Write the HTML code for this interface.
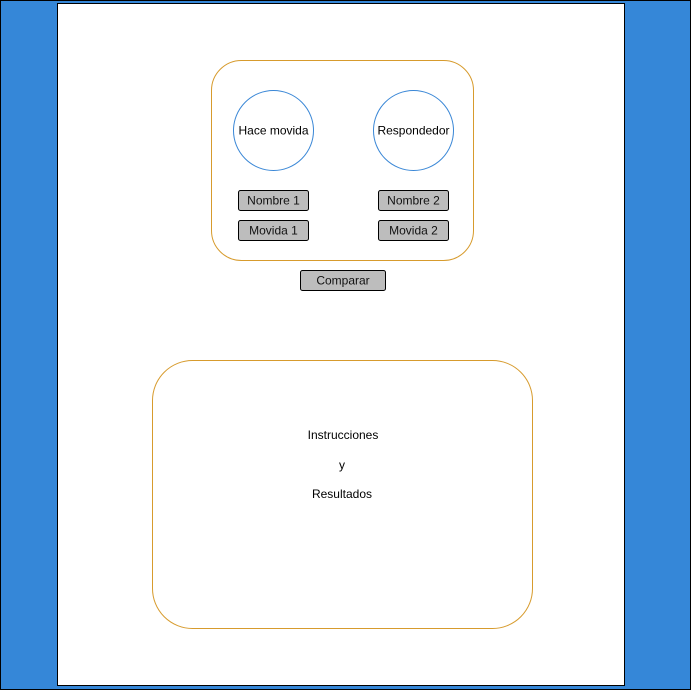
<!DOCTYPE html>
<html><head><style>html,body{margin:0;padding:0;background:#fff}</style></head>
<body>
<svg width="692" height="691" viewBox="0 0 692 691" xmlns="http://www.w3.org/2000/svg" font-family="Liberation Sans, Arial, sans-serif" font-size="12">
<rect x="0.5" y="0.5" width="690" height="689" fill="#3587d8" stroke="#000"/>
<rect x="57.5" y="3.5" width="567" height="682" fill="#fff" stroke="#000"/>
<rect x="211.5" y="60.5" width="262" height="200" rx="30" fill="none" stroke="#d79b2d"/>
<circle cx="273.5" cy="130.5" r="40" fill="#fff" stroke="#3a87d6"/>
<text x="273.5" y="134.5" text-anchor="middle">Hace movida</text>
<circle cx="413.5" cy="130.5" r="40" fill="#fff" stroke="#3a87d6"/>
<text x="413.5" y="134.5" text-anchor="middle">Respondedor</text>
<g fill="#bdbdbd" stroke="#000">
<rect x="238.5" y="190.5" width="70" height="20" rx="2"/>
<rect x="238.5" y="220.5" width="70" height="20" rx="2"/>
<rect x="378.5" y="190.5" width="70" height="20" rx="2"/>
<rect x="378.5" y="220.5" width="70" height="20" rx="2"/>
<rect x="300.5" y="270.5" width="85" height="20" rx="2"/>
</g>
<g text-anchor="middle" fill="#111">
<text x="273.5" y="204.5">Nombre 1</text>
<text x="273.5" y="234.5">Movida 1</text>
<text x="413.5" y="204.5">Nombre 2</text>
<text x="413.5" y="234.5">Movida 2</text>
<text x="343" y="284.5">Comparar</text>
</g>
<rect x="152.5" y="360.5" width="380" height="268" rx="40" fill="none" stroke="#d79b2d"/>
<g text-anchor="middle">
<text x="343" y="439">Instrucciones</text>
<text x="342" y="469">y</text>
<text x="342" y="498">Resultados</text>
</g>
</svg>
</body></html>
